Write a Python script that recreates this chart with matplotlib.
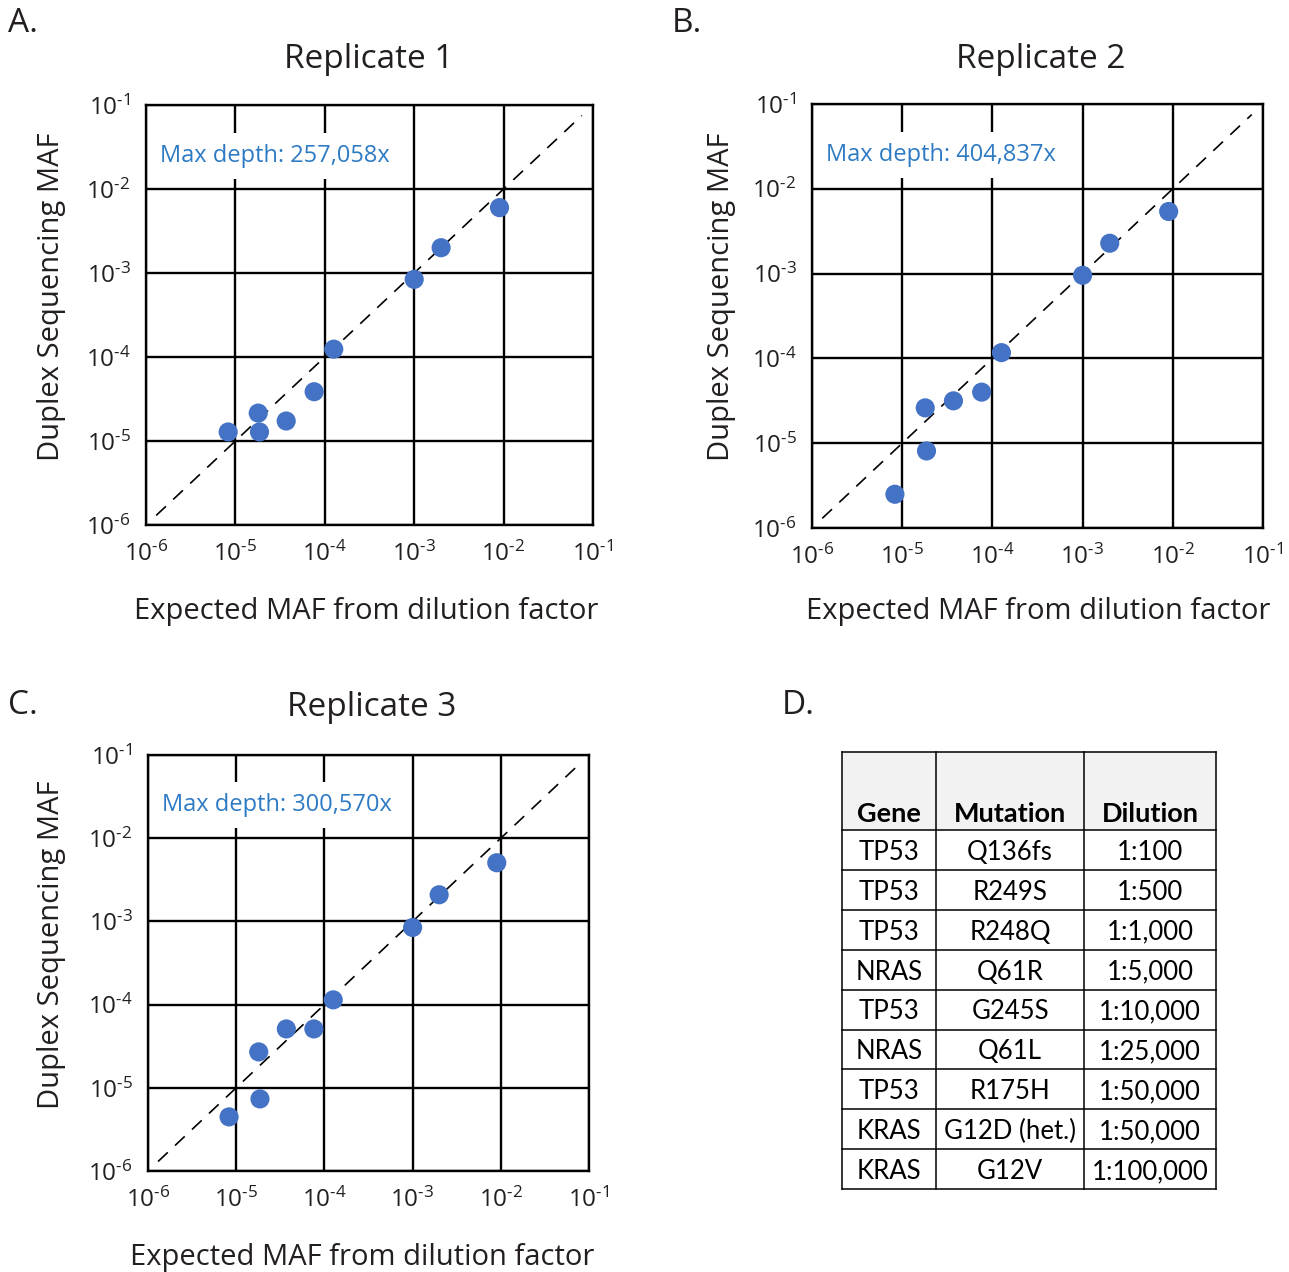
import numpy as np
import matplotlib
matplotlib.use('Agg')
from matplotlib import pyplot as plt
from matplotlib.ticker import FixedLocator, FuncFormatter, NullLocator

plt.rcParams['font.family'] = ['Open Sans', 'DejaVu Sans']
plt.rcParams['mathtext.fontset'] = 'custom'
plt.rcParams['mathtext.rm'] = 'Open Sans'
plt.rcParams['mathtext.it'] = 'Open Sans:italic'
plt.rcParams['mathtext.bf'] = 'Open Sans:bold'

# expected MAF from dilution factor (same 9 mixes in every replicate)
expected = [8.3e-6, 1.80e-5, 1.86e-5, 3.7e-5, 7.6e-5, 1.26e-4, 1.0e-3, 2.0e-3, 9.0e-3]

# observed duplex sequencing MAF per replicate
rep1 = [1.28e-5, 2.15e-5, 1.28e-5, 1.73e-5, 3.86e-5, 1.24e-4, 8.4e-4, 2.0e-3, 6.0e-3]
rep2 = [2.5e-6, 2.61e-5, 8.1e-6, 3.16e-5, 4.0e-5, 1.17e-4, 9.55e-4, 2.28e-3, 5.4e-3]
rep3 = [4.47e-6, 2.7e-5, 7.35e-6, 5.1e-5, 5.1e-5, 1.14e-4, 8.45e-4, 2.09e-3, 5.07e-3]

titles = ['Replicate 1', 'Replicate 2', 'Replicate 3']
depths = ['Max depth: 257,058x', 'Max depth: 404,837x', 'Max depth: 300,570x']
decades = [1e-6, 1e-5, 1e-4, 1e-3, 1e-2, 1e-1]

# table for panel D
genes = ['TP53', 'TP53', 'TP53', 'NRAS', 'TP53', 'NRAS', 'TP53', 'KRAS', 'KRAS']
mutations = ['Q136fs', 'R249S', 'R248Q', 'Q61R', 'G245S', 'Q61L', 'R175H', 'G12D (het.)', 'G12V']
dilutions = ['1:100', '1:500', '1:1,000', '1:5,000', '1:10,000', '1:25,000', '1:50,000', '1:50,000', '1:100,000']
headers = ['Gene', 'Mutation', 'Dilution']

W, H = 1289, 1272
ink = '#231f20'
dot = '#4472c4'
blue = '#2e7bc4'

fig = plt.figure(figsize=(W/100, H/100), dpi=100)

def px(x0, y0, x1, y1):
    # pixel box -> figure fraction rect
    return [x0/W, 1 - y1/H, (x1-x0)/W, (y1-y0)/H]

def ftext(x, y, s, **kw):
    fig.text(x/W, 1 - y/H, s, color=ink, **kw)

boxes = [(146, 105, 593, 525), (812, 104, 1263, 528), (148, 755, 589, 1171)]
title_pos = [(369, 59), (1041, 59), (372, 707)]
xlab_pos = [(366, 612), (1038, 612), (362, 1258)]
ylab_pos = [(52, 297), (722, 297), (52, 945)]

def sci(v, pos):
    return r'$\mathregular{10^{\text{-}%d}}$' % abs(int(round(np.log10(v))))

for i, yvals in enumerate([rep1, rep2, rep3]):
    ax = fig.add_axes(px(*boxes[i]))
    ax.set_xscale('log')
    ax.set_yscale('log')
    ax.set_xlim(1e-6, 1e-1)
    ax.set_ylim(1e-6, 1e-1)
    for a in (ax.xaxis, ax.yaxis):
        a.set_major_locator(FixedLocator(decades))
        a.set_minor_locator(NullLocator())
        a.set_major_formatter(FuncFormatter(sci))
    ax.tick_params(length=0, labelsize=17.5, labelcolor=ink)
    ax.tick_params(axis='x', pad=12)
    ax.tick_params(axis='y', pad=11)
    ax.set_axisbelow(True)
    ax.grid(True, color='black', lw=1.7)
    for sp in ax.spines.values():
        sp.set_linewidth(1.7)
        sp.set_color('black')
    ax.plot([1.3e-6, 7.5e-2], [1.3e-6, 7.5e-2], color='black', lw=1.2,
            ls=(0, (8, 6)), zorder=2.5, clip_on=False)
    ax.scatter(expected, yvals, s=190, color=dot, edgecolors='none', zorder=3)
    ax.text(0.031, 0.879, depths[i], transform=ax.transAxes, ha='left', va='center',
            fontsize=17, color=blue, zorder=4,
            bbox=dict(facecolor='white', edgecolor='none', pad=8))
    ftext(*title_pos[i], titles[i], fontsize=24, ha='center', va='center')
    ftext(*xlab_pos[i], 'Expected MAF from dilution factor', fontsize=21, ha='center', va='center')
    ftext(*ylab_pos[i], 'Duplex Sequencing MAF', fontsize=21, ha='center', va='center', rotation=90)

for lab, (x, y) in zip(['A.', 'B.', 'C.', 'D.'], [(8, 23), (672, 23), (8, 706), (782, 706)]):
    ftext(x, y, lab, fontsize=24, ha='left', va='center')

# panel D table
tx = fig.add_axes(px(842, 752, 1216, 1189))
n = len(genes)
head_h = 1.96
tx.set_xlim(0, 1)
tx.set_ylim(head_h + n, 0)
tx.axis('off')
col_edges = [0, 0.251, 0.648, 1.0]
tx.axhspan(0, head_h, color='#f2f2f2', lw=0)
for xe in col_edges:
    tx.plot([xe, xe], [0, head_h + n], color='black', lw=1.1, clip_on=False)
tx.plot([0, 1], [0, 0], color='black', lw=1.1, clip_on=False)
for r in range(n + 1):
    tx.plot([0, 1], [head_h + r, head_h + r], color='black', lw=1.1, clip_on=False)
for c, hd in enumerate(headers):
    cx = (col_edges[c] + col_edges[c+1]) / 2
    tx.text(cx, head_h - 0.4, hd, ha='center', va='center', fontsize=19.5,
            fontweight='bold', family=['Lato', 'DejaVu Sans'], color='black')
for r in range(n):
    cy = head_h + r + 0.56
    for c, val in enumerate([genes[r], mutations[r], dilutions[r]]):
        cx = (col_edges[c] + col_edges[c+1]) / 2
        tx.text(cx, cy, val, ha='center', va='center', fontsize=18.5,
                family=['Lato', 'DejaVu Sans'], color='black')

fig.savefig('out.png', dpi=100)
